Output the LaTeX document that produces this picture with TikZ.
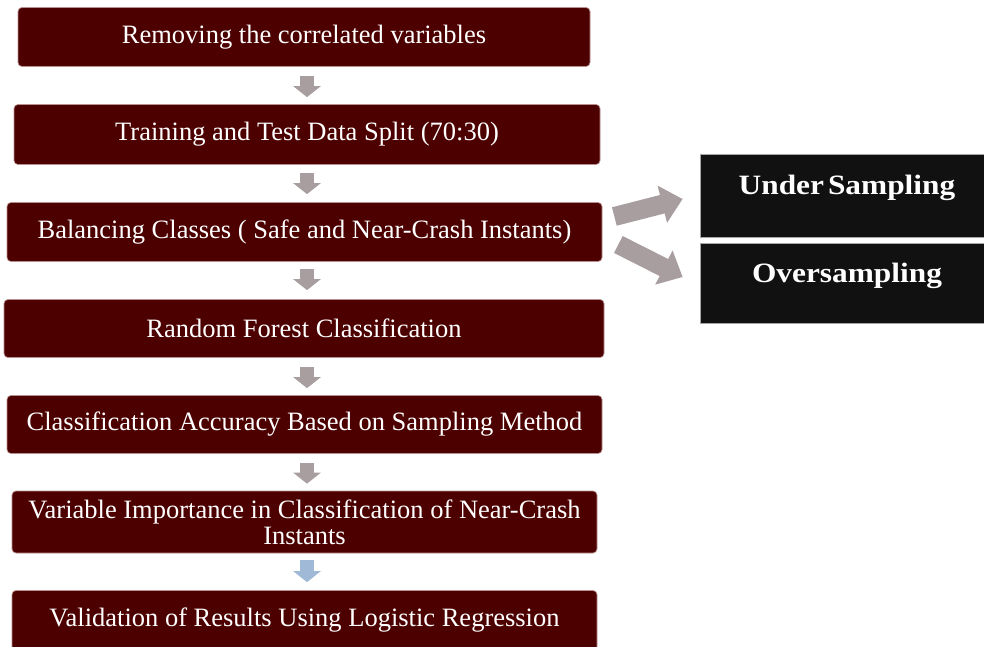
\documentclass[tikz,border=0pt]{standalone}
\usepackage{fontspec}
\setmainfont{Liberation Serif}
\newfontfamily\sidefont{Liberation Serif}[FakeStretch=1.12]
\usetikzlibrary{arrows.meta,calc}
\definecolor{boxred}{HTML}{4C0000}
\definecolor{boxedge}{HTML}{B89090}
\definecolor{boxblack}{HTML}{111111}
\definecolor{arrgray}{HTML}{A99E9F}
\definecolor{arrblue}{HTML}{A0B9D6}
\begin{document}
\begin{tikzpicture}[x=1pt,y=-1pt,
  stepbox/.style={fill=boxred, draw=boxedge, line width=0.7pt, rounded corners=4pt,
    text=white, font=\fontsize{26.5}{26}\selectfont, align=center, inner sep=0pt},
  sidebox/.style={fill=boxblack, draw=gray!70, line width=0.7pt, minimum width=294pt, inner sep=0pt},
  sidelabel/.style={text=white, font=\sidefont\fontsize{28}{30}\selectfont\bfseries, inner sep=0pt},
  downarrow/.style={draw=#1, line width=14pt, -{Triangle[width=27pt,length=11pt]}},
  sidearrow/.style={draw=arrgray, line width=19pt, -{Triangle[width=37pt,length=21pt]}}
]
\useasboundingbox (0,0) rectangle (984,647);
\fill[white] (0,0) rectangle (984,647);

\node[stepbox, minimum width=572pt, minimum height=59pt] (a) at (304,37) {Removing the correlated variables};
\node[stepbox, minimum width=586pt, minimum height=60pt] (b) at (307,134.5) {Training and Test Data Split (70:30)};
\node[stepbox, minimum width=595pt, minimum height=59pt] (c) at (304.5,232) {Balancing Classes ( Safe and Near-Crash Instants)};
\node[stepbox, minimum width=600pt, minimum height=58pt] (d) at (304,328.5) {Random Forest Classification};
\node[stepbox, minimum width=595pt, minimum height=58pt] (e) at (304.5,424.5) {Classification Accuracy Based on Sampling Method};
\node[stepbox, minimum width=585pt, minimum height=62pt] (f) at (304.5,522) {Variable Importance in Classification of Near-Crash\\Instants};
\node[stepbox, minimum width=585pt, minimum height=60pt] (g) at (304.5,620.5) {Validation of Results Using Logistic Regression};

\node[sidebox, minimum height=83pt] (u) at (847,195.5) {};
\node[sidebox, minimum height=80pt] (o) at (847,283) {};
\node[sidelabel] (ul) at (847,188) {Under\hspace{4pt}Sampling};
\node[sidelabel] (ol) at (847,276) {Oversampling};

\coordinate (ax) at (307,0);
\draw[downarrow=arrgray] ($(a.south -| ax)+(0,9)$) -- ($(b.north -| ax)+(0,-7)$);
\draw[downarrow=arrgray] ($(b.south -| ax)+(0,8)$) -- ($(c.north -| ax)+(0,-8)$);
\draw[downarrow=arrgray] ($(c.south -| ax)+(0,7)$) -- ($(d.north -| ax)+(0,-9)$);
\draw[downarrow=arrgray] ($(d.south -| ax)+(0,9)$) -- ($(e.north -| ax)+(0,-7)$);
\draw[downarrow=arrgray] ($(e.south -| ax)+(0,9)$) -- ($(f.north -| ax)+(0,-7)$);
\draw[downarrow=arrblue] ($(f.south -| ax)+(0,7)$) -- ($(g.north -| ax)+(0,-8)$);

\draw[sidearrow] ($(c.east)+(12,-15.5)$) -- ($(u.west)+(-17,3.5)$);
\draw[sidearrow] ($(c.east)+(16,12.5)$) -- ($(o.west)+(-17,-6)$);
\end{tikzpicture}
\end{document}
